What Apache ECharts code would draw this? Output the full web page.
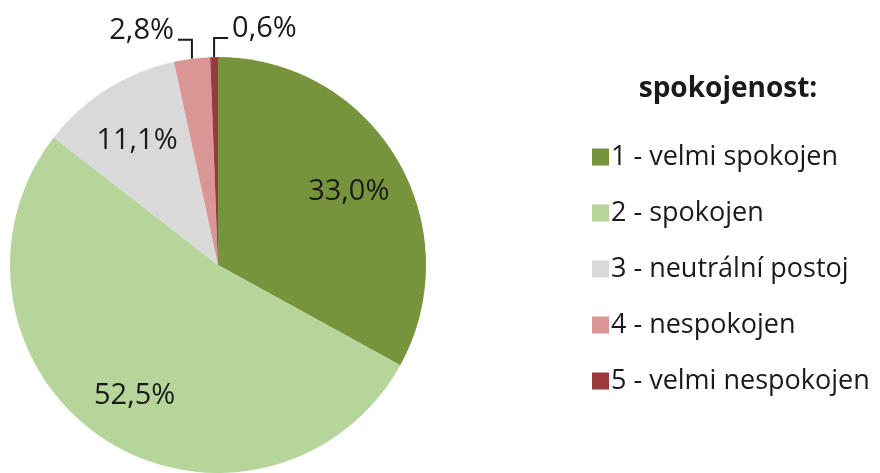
<!DOCTYPE html>
<html>
<head>
<meta charset="utf-8">
<script src="https://cdn.jsdelivr.net/npm/echarts@6/dist/echarts.min.js"></script>
<style>
  html, body { margin: 0; padding: 0; background: #fff; }
  #chart { width: 880px; height: 473px; }
</style>
</head>
<body>
<div id="chart"></div>
<script>
// Spokojenost respondentů – podíly odpovědí v procentech
const categories = [
  '1 - velmi spokojen',
  '2 - spokojen',
  '3 - neutrální postoj',
  '4 - nespokojen',
  '5 - velmi nespokojen'
];
const shares = [33.0, 52.5, 11.1, 2.8, 0.6];
const sliceColors = ['#77933C', '#B6D59B', '#D9D9D9', '#D99695', '#9B3A3A'];
const legendTitle = 'spokojenost:';

const fontFamily = '"Open Sans", "Noto Sans", sans-serif';
const pieCenter = [218, 265];
const pieRadius = 208;

// Small slices get an outside label; which side of the leader it sits on
const outsideSide = { 3: 'left', 4: 'right' };

const data = categories.map((name, i) => {
  const inside = shares[i] >= 5;
  return {
    name,
    value: shares[i],
    itemStyle: { color: sliceColors[i] },
    label: { position: inside ? 'inside' : 'outside' },
    labelLine: { show: !inside }
  };
});

// Inside labels sit further out than the default half radius;
// outside labels hang on a bracket-shaped leader (up, then sideways).
function layoutLabel(params) {
  const i = params.dataIndex;
  const r = params.labelRect;
  if (!outsideSide[i]) {
    const cx = r.x + r.width / 2;
    const cy = r.y + r.height / 2;
    const k = 1.42;
    return {
      x: pieCenter[0] + (cx - pieCenter[0]) * k,
      y: pieCenter[1] + (cy - pieCenter[1]) * k + 4,
      align: 'center',
      verticalAlign: 'middle',
      hideOverlap: false
    };
  }
  const p0 = params.labelLinePoints[0];
  const rise = 19;
  const run = 14;
  const dir = outsideSide[i] === 'left' ? -1 : 1;
  const p1 = [p0[0], p0[1] - rise];
  const p2 = [p0[0] + dir * run, p0[1] - rise];
  return {
    x: p2[0] + dir * 4,
    y: p2[1] - 9,
    align: dir < 0 ? 'right' : 'left',
    verticalAlign: 'middle',
    hideOverlap: false,
    labelLinePoints: [p0, p1, p2]
  };
}

const chart = echarts.init(document.getElementById('chart'), null, { renderer: 'canvas' });
chart.setOption({
  animation: false,
  backgroundColor: '#ffffff',
  title: {
    text: legendTitle,
    left: 723,
    top: 70,
    textAlign: 'center',
    textStyle: { fontFamily, fontSize: 28, fontWeight: 'bold', color: '#1a1a1a' }
  },
  legend: {
    orient: 'vertical',
    left: 587,
    top: 137,
    itemWidth: 17,
    itemHeight: 17,
    itemGap: 26,
    icon: 'rect',
    selectedMode: false,
    textStyle: {
      fontFamily, fontSize: 27, lineHeight: 30, color: '#1a1a1a',
      padding: [0, 0, 0, -3]
    },
    data: categories
  },
  series: [{
    type: 'pie',
    center: pieCenter,
    radius: [0, pieRadius],
    startAngle: 90,
    clockwise: true,
    avoidLabelOverlap: false,
    label: {
      show: true,
      fontFamily,
      fontSize: 29,
      color: '#1a1a1a',
      formatter: p => p.value.toFixed(1).replace('.', ',') + '%'
    },
    labelLine: {
      length: 19,
      length2: 14,
      lineStyle: { color: '#1a1a1a', width: 2 }
    },
    labelLayout: layoutLabel,
    emphasis: { disabled: true },
    data
  }]
});
</script>
</body>
</html>
